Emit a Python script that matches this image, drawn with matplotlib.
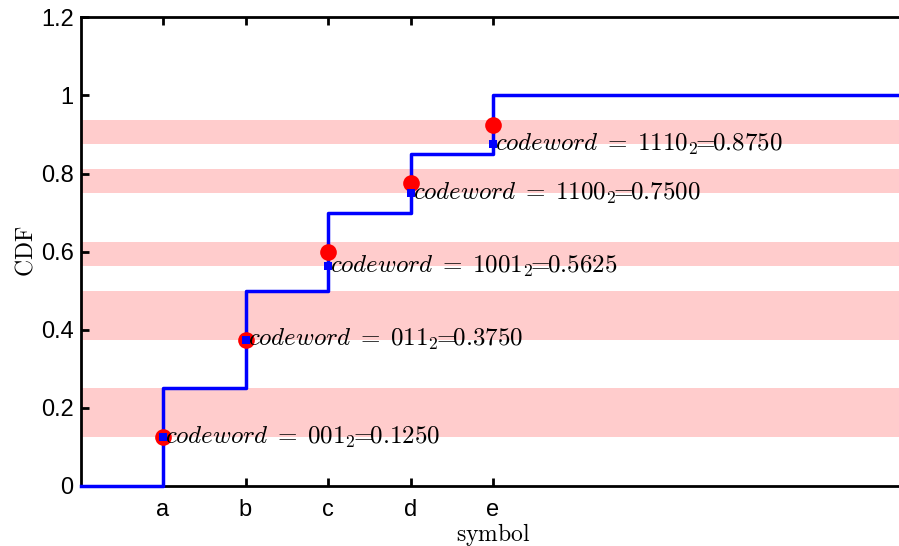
import numpy as np
import matplotlib
matplotlib.use("Agg")
import matplotlib.pyplot as plt

plt.rcParams['mathtext.fontset'] = 'cm'
plt.rcParams['font.family'] = ['Liberation Sans', 'DejaVu Sans']

symbols = ['a', 'b', 'c', 'd', 'e']
probs = [0.25, 0.25, 0.2, 0.15, 0.15]
codewords = ['001', '011', '1001', '1100', '1110']
code_values = [0.1250, 0.3750, 0.5625, 0.7500, 0.8750]
code_lengths = [3, 3, 4, 4, 4]

x_pos = np.arange(1, len(symbols) + 1)
cdf = np.cumsum(probs)
cdf_prev = np.concatenate([[0], cdf[:-1]])
mids = (cdf + cdf_prev) / 2

fig = plt.figure(figsize=(8.99, 5.46), dpi=100)
ax = fig.add_axes([80.5 / 899, 60 / 546, 825 / 899, 468.7 / 546])

# code intervals
for v, n in zip(code_values, code_lengths):
    ax.axhspan(v, v + 2.0 ** -n, color='#ffcccc', lw=0, zorder=1)

# step CDF
xs = np.concatenate([[0], x_pos, [10]])
ys = np.concatenate([[0], cdf, [cdf[-1]]])
ax.step(xs, ys, where='post', color='blue', lw=2.5, zorder=3, clip_on=False)

ax.plot(x_pos, mids, 'o', color='red', ms=12, mew=0, zorder=4)
ax.plot(x_pos, code_values, 's', color='blue', ms=6, mew=0, zorder=5)

for x, cw, v in zip(x_pos, codewords, code_values):
    ax.text(x + 0.03, v, r'$codeword\;=\;%s_2\!\!=\!\!%.4f$' % (cw, v),
            fontsize=18, va='center', ha='left', zorder=6)

ax.set_xlim(0, 10)
ax.set_ylim(0, 1.2)
ax.set_xticks(x_pos)
ax.set_xticklabels(symbols)
ax.set_yticks([0, 0.2, 0.4, 0.6, 0.8, 1, 1.2])
ax.set_yticklabels(['0', '0.2', '0.4', '0.6', '0.8', '1', '1.2'])
ax.tick_params(direction='in', length=6, width=2, labelsize=17, top=True)
ax.tick_params(axis='x', pad=9)
ax.tick_params(axis='y', pad=5)
for s in ax.spines.values():
    s.set_linewidth(2)
ax.spines['right'].set_visible(False)

ax.set_xlabel(r'$\mathrm{symbol}$', fontsize=17, labelpad=0)
ax.set_ylabel(r'$\mathrm{CDF}$', fontsize=17, labelpad=2)

fig.savefig('out.png', dpi=100)
